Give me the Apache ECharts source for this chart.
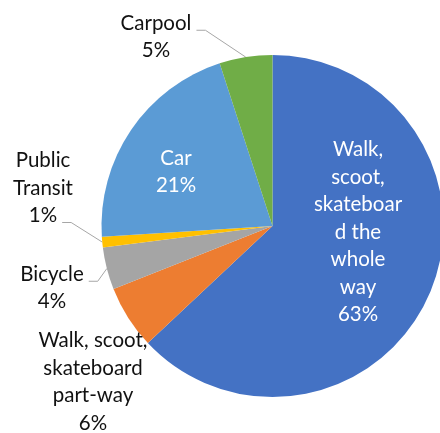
<!DOCTYPE html>
<html>
<head>
<meta charset="utf-8">
<script src="https://cdn.jsdelivr.net/npm/echarts@6/dist/echarts.min.js"></script>
<style>
  html, body { margin: 0; padding: 0; background: #fff; }
  #main { width: 440px; height: 433px; }
</style>
</head>
<body>
<div id="main"></div>
<script>
// data, clockwise from 12 o'clock
const categories = ['Walk, scoot, skateboard the whole way', 'Walk, scoot, skateboard part-way', 'Bicycle', 'Public Transit', 'Car', 'Carpool'];
const labelTexts = ['Walk,\nscoot,\nskateboar\nd the\nwhole\nway', 'Walk, scoot,\nskateboard\npart-way', 'Bicycle', 'Public\nTransit', 'Car', 'Carpool'];
const values = [63, 6, 4, 1, 21, 5];
const colors = ['#4472C4', '#ED7D31', '#A5A5A5', '#FFC000', '#5B9BD5', '#70AD47'];
const inside = [true, false, false, false, true, false];

// where each label block is centred
const labelAt = [[358, 232], [93, 382], [52, 288], [43, 188], [176, 172], [156, 37]];
// which text line the leader line starts from
const leaderFrom = { 2: 0, 3: 2, 5: 0 };

const CX = 272.5, CY = 226, R = 171;
const FS = 20.5, LH = 27.5;

const ctx = document.createElement('canvas').getContext('2d');
ctx.font = FS + 'px Lato';

const total = values.reduce((a, b) => a + b, 0);

function edgePoint(i) {
  let before = 0;
  for (let k = 0; k < i; k++) before += values[k];
  const a = (before + values[i] / 2) / total * 2 * Math.PI;
  return [CX + R * Math.sin(a), CY - R * Math.cos(a)];
}

let myChart = echarts.init(document.getElementById('main'));

myChart.setOption({
  animation: false,
  textStyle: { fontFamily: 'Lato' },
  series: [{
    type: 'pie',
    center: [CX, CY],
    radius: R,
    startAngle: 90,
    clockwise: true,
    avoidLabelOverlap: false,
    data: values.map((v, i) => ({
      name: categories[i],
      value: v,
      itemStyle: { color: colors[i] },
      label: {
        show: true,
        position: inside[i] ? 'inside' : 'outside',
        color: inside[i] ? '#fff' : '#111',
        formatter: labelTexts[i] + '\n' + v + '%'
      },
      labelLine: { show: leaderFrom[i] !== undefined }
    })),
    label: {
      fontSize: FS,
      lineHeight: LH,
      align: 'center'
    },
    labelLine: {
      lineStyle: { color: '#A6A6A6', width: 1 },
      length: 10,
      length2: 10
    },
    labelLayout: function (p) {
      const i = p.dataIndex;
      const out = {
        x: labelAt[i][0],
        y: labelAt[i][1],
        align: 'center',
        verticalAlign: 'middle'
      };
      if (leaderFrom[i] !== undefined) {
        const lines = (labelTexts[i] + '\n' + values[i] + '%').split('\n');
        const li = leaderFrom[i];
        const w = ctx.measureText(lines[li]).width;
        const y = labelAt[i][1] + (li - (lines.length - 1) / 2) * LH + 7;
        const x = labelAt[i][0] + w / 2 + 5;
        out.labelLinePoints = [edgePoint(i), [x + 9, y], [x, y]];
      }
      return out;
    }
  }]
});
</script>
</body>
</html>
